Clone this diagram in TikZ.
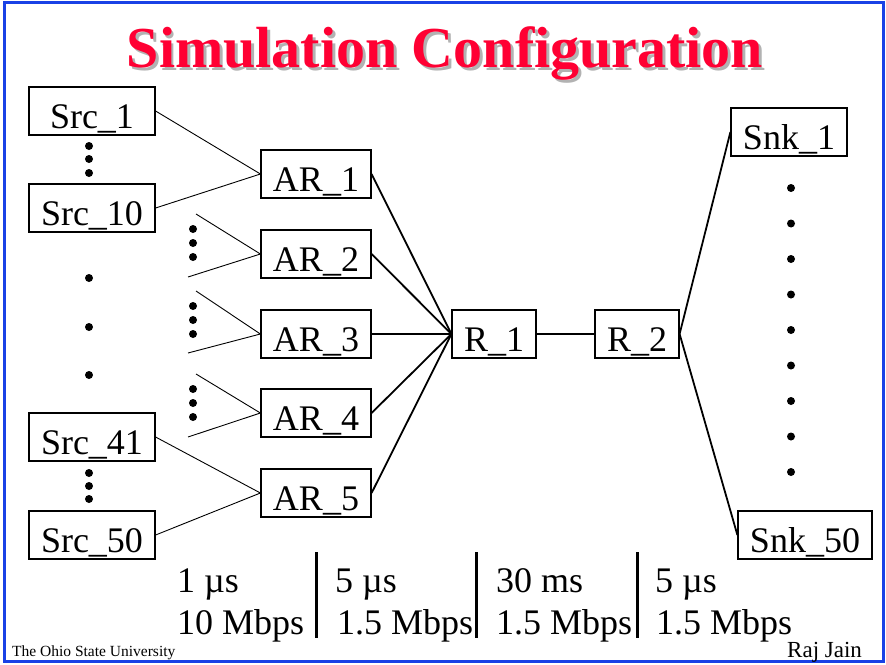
\documentclass[tikz,border=0pt]{standalone}
\usepackage{fontspec}
\setmainfont{Liberation Serif}
\usetikzlibrary{positioning}

\definecolor{titlered}{RGB}{255,0,51}
\definecolor{frameblue}{RGB}{25,65,230}
\newcommand{\bigfont}{\fontsize{36}{40}\selectfont}

\tikzset{
  netbox/.style={draw, line width=1.2pt, font=\bigfont, inner xsep=12pt, inner ysep=0pt,
    text height=41pt, text depth=7pt},
  srcbox/.style={netbox, minimum width=126pt},
  link/.style={line width=0.9pt},
  trunk/.style={line width=1.8pt},
  dotmark/.style={circle, fill, inner sep=0pt, minimum size=8pt},
  lbl/.style={anchor=base west, font=\bigfont, inner sep=0pt}
}

\begin{document}
\begin{tikzpicture}[x=1pt, y=-1pt]
        \useasboundingbox (0,0) rectangle (886,664);
        \draw[frameblue, line width=3pt] (4,2) rectangle (883,661);

        % title with shadow
        \node[anchor=base, gray!60, font=\fontsize{58}{60}\selectfont\bfseries] at (448,70) {Simulation Configuration};
        \node[anchor=base, titlered, font=\fontsize{58}{60}\selectfont\bfseries] (title) at (445,67) {Simulation Configuration};

        % sources
        \node[srcbox] (S1) at (92,111) {Src\_1};
        \node[srcbox] (S10) at (92,208) {Src\_10};
        \node[srcbox] (S41) at (92,437) {Src\_41};
        \node[srcbox] (S50) at (92,535) {Src\_50};

        % access routers
        \node[netbox] (AR1) at (316,174) {AR\_1};
        \node[netbox] (AR2) at (316,254) {AR\_2};
        \node[netbox] (AR3) at (316,334) {AR\_3};
        \node[netbox] (AR4) at (316,413) {AR\_4};
        \node[netbox] (AR5) at (316,493) {AR\_5};

        % bottleneck routers
        \node[netbox] (R1) at (494,334) {R\_1};
        \node[netbox] (R2) at (637,334) {R\_2};

        % sinks
        \node[netbox] (K1) at (789,132) {Snk\_1};
        \node[netbox] (K50) at (805,535) {Snk\_50};

        % dots
        \foreach \y in {146,159,173} \node[dotmark] (d1\y) at (89,\y) {};
        \foreach \y in {278,327,375} \node[dotmark] (d2\y) at (89,\y) {};
        \foreach \y in {473,486,499} \node[dotmark] (d3\y) at (89,\y) {};
        \foreach \y in {229,243,257,306,320,334,389,403,417} \node[dotmark] (d4\y) at (193,\y) {};
        \foreach \i in {0,...,8} \node[dotmark] (k\i) at (791,188+35.5*\i) {};

        % free ends of the fans
        \coordinate (a2t) at (196,214); \coordinate (a2b) at (188,277);
        \coordinate (a3t) at (196,291); \coordinate (a3b) at (188,353);
        \coordinate (a4t) at (196,374); \coordinate (a4b) at (188,437);

        \draw[link] (S1.east) -- (AR1.west); \draw[link] (S10.east) -- (AR1.west);
        \draw[link] (S41.east) -- (AR5.west); \draw[link] (S50.east) -- (AR5.west);
        \draw[link] (a2t) -- (AR2.west) -- (a2b);
        \draw[link] (a3t) -- (AR3.west) -- (a3b);
        \draw[link] (a4t) -- (AR4.west) -- (a4b);

        \foreach \n in {AR1,AR2,AR3,AR4,AR5} \draw[trunk] (\n.east) -- (R1.west);
        \draw[line width=2.4pt] (R1) -- (R2);
        \draw[trunk] (R2.east) -- (K1.west);
        \draw[trunk] (R2.east) -- (K50.west);

        % link parameters
        \coordinate (b1t) at (316,552); \coordinate (b1b) at (316,638);
        \coordinate (b2t) at (476,552); \coordinate (b2b) at (476,638);
        \coordinate (b3t) at (637,552); \coordinate (b3b) at (637,638);
        \draw[line width=3pt] (b1t) -- (b1b);
        \draw[line width=3pt] (b2t) -- (b2b);
        \draw[line width=3pt] (b3t) -- (b3b);

        \node[lbl] (d1) at (177,592) {1 µs};
        \node[lbl] (r1) at (177,634) {10 Mbps};
        \node[lbl] (d2) at (335,592) {5 µs};
        \node[lbl] (r2) at (337,634) {1.5 Mbps};
        \node[lbl] (d3) at (496,592) {30 ms};
        \node[lbl] (r3) at (496,634) {1.5 Mbps};
        \node[lbl] (d4) at (655,592) {5 µs};
        \node[lbl] (r4) at (656,634) {1.5 Mbps};

        % footer
        \node[anchor=base west, inner sep=0pt, font=\fontsize{15.5}{17}\selectfont] (osu) at (12,656) {The Ohio State University};
        \node[anchor=base west, inner sep=0pt, font=\fontsize{23}{25}\selectfont] (raj) at (787,657) {Raj Jain};
\end{tikzpicture}
\end{document}
